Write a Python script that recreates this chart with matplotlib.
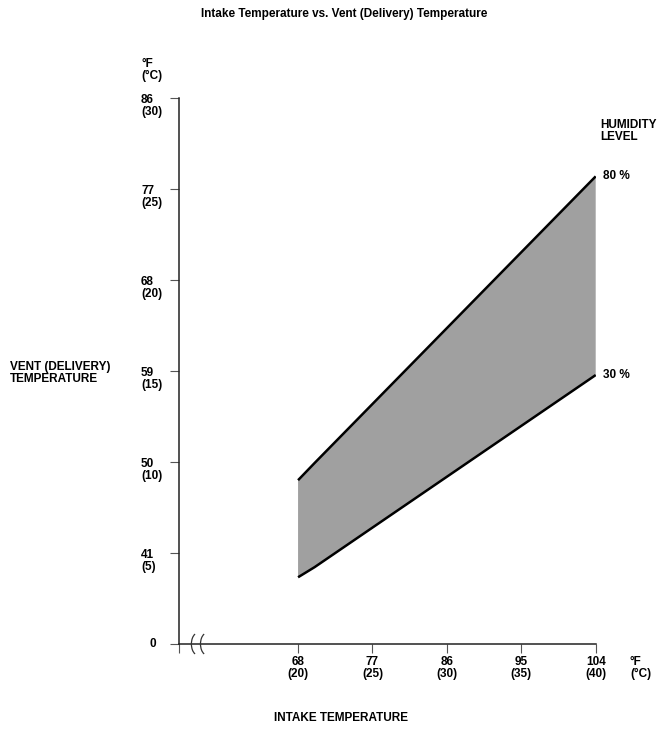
import matplotlib
matplotlib.use("Agg")
import matplotlib.pyplot as plt
from matplotlib.patches import Arc
import matplotlib.transforms as mtransforms

# ---- data ----
title = "Intake Temperature vs. Vent (Delivery) Temperature"
x_ticks_f = [68, 77, 86, 95, 104]
x_tick_labels = ["68\n(20)", "77\n(25)", "86\n(30)", "95\n(35)", "104\n(40)"]
y_ticks_f = [32, 41, 50, 59, 68, 77, 86]
y_tick_labels = ["0", "41\n(5)", "50\n(10)", "59\n(15)", "68\n(20)", "77\n(25)", "86\n(30)"]
intake_f = [68, 70, 104]
vent_80 = [48.2, 49.9, 78.25]
vent_30 = [38.6, 39.6, 58.6]
band_labels = ["80 %", "30 %"]

FONT = ["Liberation Sans", "DejaVu Sans"]
FS = 8.5
W, H = 669, 733
fig = plt.figure(figsize=(W / 100, H / 100), dpi=100)
plt.rcParams['font.family'] = FONT

x_origin = 53.6
left, right = 179 / W, 595.7 / W
bottom, top = 1 - 644 / H, 1 - 98 / H
ax = fig.add_axes([left, bottom, right - left, top - bottom])
ax.set_xlim(x_origin, 104)
ax.set_ylim(32, 86)
for s in ["top", "right"]:
    ax.spines[s].set_visible(False)
ax.spines["left"].set_linewidth(1.1)
ax.spines["bottom"].set_linewidth(1.1)
ax.spines["left"].set_color("#222222")
ax.spines["bottom"].set_color("#222222")

ax.set_xticks([x_origin] + x_ticks_f)
ax.set_xticklabels([])
ax.set_yticks(y_ticks_f)
ax.set_yticklabels([])
ax.tick_params(axis="both", direction="out", length=6.5, width=0.8, color="#555555")

# y tick labels (left aligned)
ytrans = mtransforms.blended_transform_factory(fig.transFigure, ax.transData)
for v, lab in zip(y_ticks_f, y_tick_labels):
    if lab == "0":
        ax.text(150 / W, v, lab, transform=ytrans, ha="left", va="center",
                fontsize=FS, fontweight="bold")
    else:
        off = mtransforms.offset_copy(ytrans, fig=fig, x=0, y=4, units="dots")
        ax.text(141 / W, v, lab, transform=off, ha="left", va="top",
                fontsize=FS, fontweight="bold", linespacing=1.05)

# x tick labels
xtrans = mtransforms.blended_transform_factory(ax.transData, fig.transFigure)
for v, lab in zip(x_ticks_f, x_tick_labels):
    ax.text(v, 1 - 656 / H, lab, transform=xtrans, ha="center", va="top",
            fontsize=FS, fontweight="bold", linespacing=1.05)

# band
ax.fill_between(intake_f, vent_30, vent_80, facecolor="#a0a0a0", edgecolor="none",
                zorder=2)
ax.plot(intake_f, vent_80, color="black", lw=1.8, zorder=3, solid_capstyle="butt")
ax.plot(intake_f, vent_30, color="black", lw=1.8, zorder=3, solid_capstyle="butt")

# band labels
ax.annotate(band_labels[0], (intake_f[-1], vent_80[-1]), xytext=(5, 0),
            textcoords="offset points", ha="left", va="center",
            fontsize=FS, fontweight="bold", annotation_clip=False)
ax.annotate(band_labels[1], (intake_f[-1], vent_30[-1]), xytext=(5, 0),
            textcoords="offset points", ha="left", va="center",
            fontsize=FS, fontweight="bold", annotation_clip=False)

# axis break marks
for cx in [55.9, 57.0]:
    ax.add_patch(Arc((cx, 32), 1.6, 2.2, theta1=110, theta2=250, lw=0.9,
                     color="#333333", clip_on=False, zorder=4))

# texts
fig.text(0.5 + 10 / W, 1 - 14 / H, title, ha="center", va="center",
         fontsize=FS, fontweight="bold")
fig.text(141 / W, 1 - 58 / H, "°F\n(°C)", ha="left", va="top",
         fontsize=FS, fontweight="bold", linespacing=1.05)
fig.text(10 / W, 1 - 361 / H, "VENT (DELIVERY)\nTEMPERATURE", ha="left", va="top",
         fontsize=FS, fontweight="bold", linespacing=1.05)
fig.text(600 / W, 1 - 119 / H, "HUMIDITY\nLEVEL", ha="left", va="top",
         fontsize=FS, fontweight="bold", linespacing=1.05)
fig.text(630 / W, 1 - 656 / H, "°F\n(°C)", ha="left", va="top",
         fontsize=FS, fontweight="bold", linespacing=1.05)
fig.text(341 / W, 1 - 718 / H, "INTAKE TEMPERATURE", ha="center", va="center",
         fontsize=FS, fontweight="bold")

fig.savefig("out.png", dpi=100, facecolor="white")
